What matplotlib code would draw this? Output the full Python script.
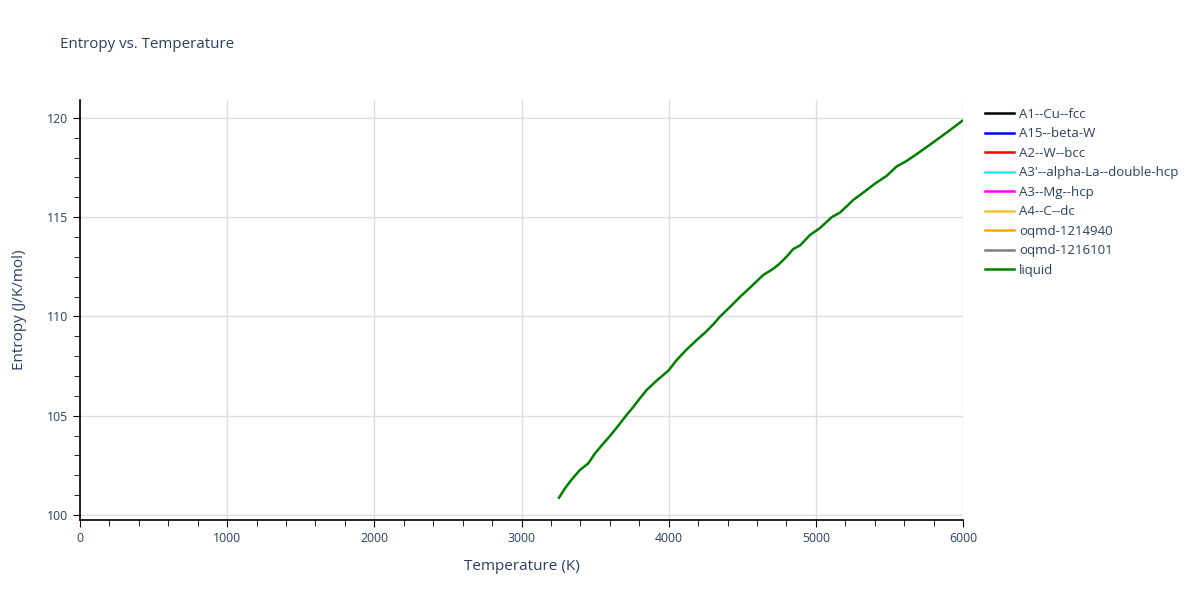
import numpy as np
import matplotlib.pyplot as plt

# liquid entropy
temperature = [3255, 3295, 3340, 3397, 3454, 3499, 3550, 3601, 3660, 3714, 3760,
               3805, 3851, 3920, 3998, 4054, 4120, 4200, 4250, 4300, 4350, 4420,
               4487, 4560, 4643, 4700, 4745, 4800, 4847, 4892, 4960, 5028, 5108,
               5164, 5210, 5255, 5330, 5400, 5481, 5549, 5617, 5700, 5800, 5900, 5995]
entropy = [100.87, 101.34, 101.78, 102.27, 102.60, 103.10, 103.55, 103.98, 104.52,
           105.04, 105.45, 105.88, 106.30, 106.78, 107.27, 107.80, 108.32, 108.88,
           109.20, 109.58, 110.00, 110.50, 111.00, 111.50, 112.09, 112.35, 112.60,
           113.00, 113.40, 113.57, 114.10, 114.45, 115.00, 115.23, 115.55, 115.87,
           116.28, 116.68, 117.08, 117.55, 117.83, 118.25, 118.78, 119.32, 119.85]

series = ["A1--Cu--fcc", "A15--beta-W", "A2--W--bcc", "A3'--alpha-La--double-hcp",
          "A3--Mg--hcp", "A4--C--dc", "oqmd-1214940", "oqmd-1216101", "liquid"]
colors = ["black", "blue", "red", "cyan", "magenta", "#f0c030", "orange", "grey", "green"]

plt.rcParams['font.family'] = ['Open Sans', 'DejaVu Sans']
text_color = '#2a3f5f'

fig = plt.figure(figsize=(12, 6), dpi=100)
ax = fig.add_axes([80 / 1200, 1 - 520 / 600, 883 / 1200, 420 / 600])

for name, c in zip(series, colors):
    if name == "liquid":
        ax.plot(temperature, entropy, color=c, lw=1.8, label=name)
    else:
        ax.plot([], [], color=c, lw=1.8, label=name)

ax.set_xlim(0, 6000)
ax.set_ylim(99.75, 120.9)
ax.set_xticks(range(0, 6001, 1000))
ax.set_xticks(range(0, 6001, 200), minor=True)
ax.set_yticks(range(100, 121, 5))
ax.set_yticks(range(100, 121, 1), minor=True)
ax.grid(True, which='major', color='#dddddd', lw=1)
ax.set_axisbelow(True)
for s in ['top', 'right']:
    ax.spines[s].set_visible(False)
for s in ['left', 'bottom']:
    ax.spines[s].set_color('black')
    ax.spines[s].set_linewidth(1.2)
ax.tick_params(which='major', length=5, color='black', labelsize=8.8, labelcolor=text_color)
ax.tick_params(which='minor', length=4, color='black')
ax.set_xlabel('Temperature (K)', fontsize=11, color=text_color, labelpad=10)
ax.set_ylabel('Entropy (J/K/mol)', fontsize=11, color=text_color, labelpad=14)

fig.text(60 / 1200, 1 - 45 / 600, 'Entropy vs. Temperature', fontsize=10.9,
         color=text_color, va='center')

ax.legend(loc='upper left', bbox_to_anchor=(985 / 1200, 1 - 108 / 600),
          bbox_transform=fig.transFigure, frameon=False, fontsize=9.5,
          handlelength=2.2, handletextpad=0.4, labelspacing=0.49,
          labelcolor=text_color, borderaxespad=0, borderpad=0)

fig.savefig('out.png', dpi=100)
